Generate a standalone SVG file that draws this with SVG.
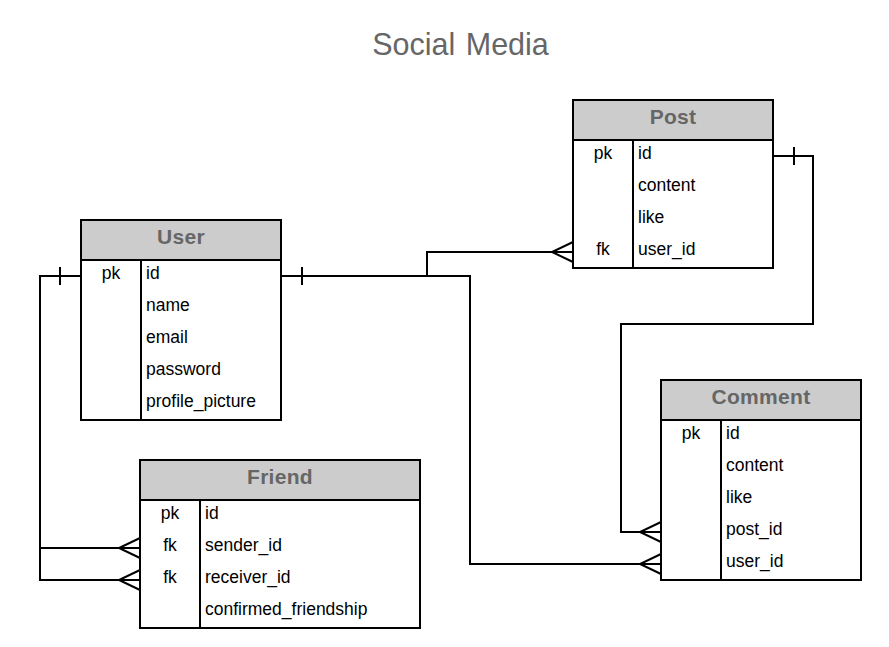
<svg xmlns="http://www.w3.org/2000/svg" width="889" height="647" viewBox="0 0 889 647">
<style>
  .box { fill: #ffffff; stroke: #000000; stroke-width: 2; }
  .hdr { fill: #cccccc; stroke: #000000; stroke-width: 2; }
  .sep { stroke: #000000; stroke-width: 2; fill: none; }
  .ht { font-family: "Liberation Sans", Arial, sans-serif; font-weight: bold; font-size: 21px; fill: #666666; text-anchor: middle; letter-spacing: 0.3px; }
  .ft { font-family: "Liberation Sans", Arial, sans-serif; font-size: 17.5px; fill: #000000; }
  .kt { font-family: "Liberation Sans", Arial, sans-serif; font-size: 17.5px; fill: #000000; text-anchor: middle; }
  .title { font-family: "Liberation Sans", Arial, sans-serif; font-size: 30.5px; fill: #666666; text-anchor: middle; word-spacing: 2px; }
  .conn { fill: none; stroke: #000000; stroke-width: 2; }
</style>
<defs>
  <marker id="many" markerUnits="userSpaceOnUse" orient="auto" refX="0" refY="0" markerWidth="24" markerHeight="24" viewBox="-22 -12 24 24" overflow="visible">
    <path d="M0,-10 L-21,0 L0,10" fill="none" stroke="#000000" stroke-width="2"/>
  </marker>
  <marker id="one" markerUnits="userSpaceOnUse" orient="auto" refX="0" refY="0" markerWidth="24" markerHeight="24" viewBox="0 -12 24 24" overflow="visible">
    <path d="M21,-9 L21,9" fill="none" stroke="#000000" stroke-width="2"/>
  </marker>
</defs>
<rect x="0" y="0" width="889" height="647" fill="#ffffff"/>
<text class="title" x="460.5" y="55">Social Media</text>

<g id="connectors">
  <path id="user-post" class="conn" d="M281,276 H427 V252 H573" marker-start="url(#one)" marker-end="url(#many)"/>
  <path id="user-comment" class="conn" d="M281,276 H470 V564 H661" marker-start="url(#one)" marker-end="url(#many)"/>
  <path id="user-friend-sender" class="conn" d="M81,276 H40 V548 H140" marker-start="url(#one)" marker-end="url(#many)"/>
  <path id="user-friend-receiver" class="conn" d="M81,276 H40 V580 H140" marker-start="url(#one)" marker-end="url(#many)"/>
  <path id="post-comment" class="conn" d="M773,156 H813 V324 H621 V532 H661" marker-start="url(#one)" marker-end="url(#many)"/>
</g>

<g id="User">
  <rect class="box" x="81" y="220" width="200" height="200"/>
  <rect class="hdr" x="81" y="220" width="200" height="40"/>
  <line class="sep" x1="141" y1="260" x2="141" y2="420"/>
  <text class="ht" x="181" y="244">User</text>
  <text class="kt" x="111" y="279">pk</text>
  <text class="ft" x="146" y="279">id</text>
  <text class="ft" x="146" y="311">name</text>
  <text class="ft" x="146" y="343">email</text>
  <text class="ft" x="146" y="375">password</text>
  <text class="ft" x="146" y="407">profile_picture</text>
</g>

<g id="Post">
  <rect class="box" x="573" y="100" width="200" height="168"/>
  <rect class="hdr" x="573" y="100" width="200" height="40"/>
  <line class="sep" x1="633" y1="140" x2="633" y2="268"/>
  <text class="ht" x="673" y="124">Post</text>
  <text class="kt" x="603" y="159">pk</text>
  <text class="ft" x="638" y="159">id</text>
  <text class="ft" x="638" y="191">content</text>
  <text class="ft" x="638" y="223">like</text>
  <text class="kt" x="603" y="255">fk</text>
  <text class="ft" x="638" y="255">user_id</text>
</g>

<g id="Friend">
  <rect class="box" x="140" y="460" width="280" height="168"/>
  <rect class="hdr" x="140" y="460" width="280" height="40"/>
  <line class="sep" x1="200" y1="500" x2="200" y2="628"/>
  <text class="ht" x="280" y="484">Friend</text>
  <text class="kt" x="170" y="519">pk</text>
  <text class="ft" x="205" y="519">id</text>
  <text class="kt" x="170" y="551">fk</text>
  <text class="ft" x="205" y="551">sender_id</text>
  <text class="kt" x="170" y="583">fk</text>
  <text class="ft" x="205" y="583">receiver_id</text>
  <text class="ft" x="205" y="615">confirmed_friendship</text>
</g>

<g id="Comment">
  <rect class="box" x="661" y="380" width="200" height="200"/>
  <rect class="hdr" x="661" y="380" width="200" height="40"/>
  <line class="sep" x1="721" y1="420" x2="721" y2="580"/>
  <text class="ht" x="761" y="404">Comment</text>
  <text class="kt" x="691" y="439">pk</text>
  <text class="ft" x="726" y="439">id</text>
  <text class="ft" x="726" y="471">content</text>
  <text class="ft" x="726" y="503">like</text>
  <text class="ft" x="726" y="535">post_id</text>
  <text class="ft" x="726" y="567">user_id</text>
</g>
</svg>
